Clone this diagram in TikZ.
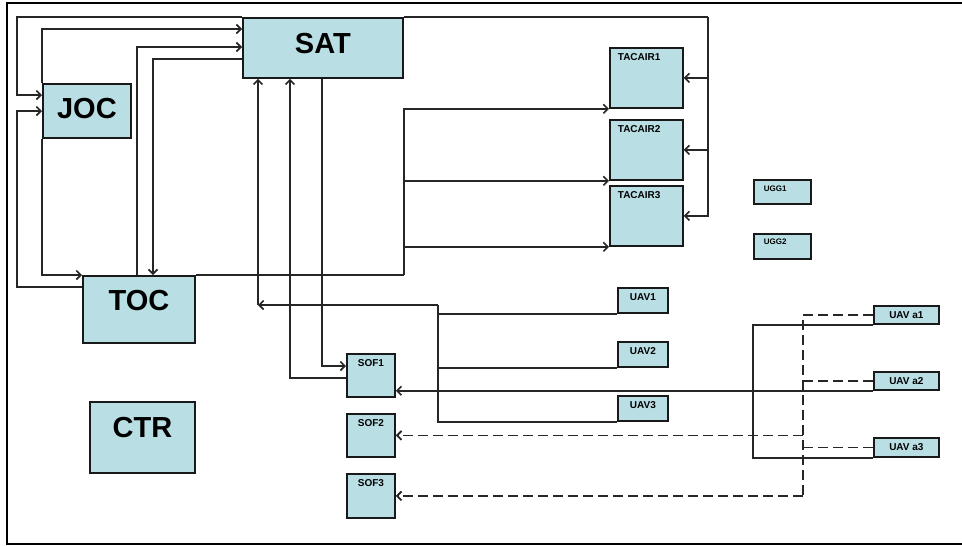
\documentclass[tikz,border=0pt]{standalone}
\usepackage{fontspec}
\setmainfont{Liberation Sans}
\usetikzlibrary{arrows.meta}
\definecolor{unitblue}{RGB}{185,223,228}

\begin{document}
\begin{tikzpicture}[x=1pt,y=-1pt,>={Straight Barb[length=4.5pt,width=9pt]},
  unit/.style={draw=black!90,line width=1.8pt,fill=unitblue,inner sep=0pt,anchor=north west},
  bigunit/.style={unit,font=\fontsize{29}{30}\selectfont\bfseries},
  smallunit/.style={unit,font=\fontsize{10}{11}\selectfont\bfseries},
  link/.style={draw=black!85,line width=1.6pt},
  dlink/.style={link,line width=1.8pt,dash pattern=on 10pt off 5pt}]
\useasboundingbox (0,0) rectangle (962,546);
\draw[line width=2.2pt] (962,3) -- (7,3) -- (7,544) -- (962,544);

% command centres
\node[bigunit,minimum width=160pt,text height=36pt,text depth=24pt] (sat) at (242,17) {SAT};
\node[bigunit,minimum width=88pt,text height=35pt,text depth=19pt] (joc) at (42,83) {JOC};
\node[bigunit,minimum width=112pt,text height=35pt,text depth=32pt] (toc) at (82,275) {TOC};
\node[bigunit,minimum width=105pt,text height=36pt,text depth=35pt] (ctr) at (89,401) {CTR};

% air and ground units
\node[smallunit,minimum width=73pt,text width=57pt,inner xsep=8pt,align=left,text height=13pt,text depth=47pt] (tacair1) at (609,47) {TACAIR1};
\node[smallunit,minimum width=73pt,text width=57pt,inner xsep=8pt,align=left,text height=13pt,text depth=47pt] (tacair2) at (609,119) {TACAIR2};
\node[smallunit,minimum width=73pt,text width=57pt,inner xsep=8pt,align=left,text height=13pt,text depth=47pt] (tacair3) at (609,185) {TACAIR3};
\node[smallunit,font=\fontsize{8}{9}\selectfont\bfseries,minimum width=57pt,text width=37pt,inner xsep=10pt,align=left,text height=12pt,text depth=12pt] (ugg1) at (753,179) {UGG1};
\node[smallunit,font=\fontsize{8}{9}\selectfont\bfseries,minimum width=57pt,text width=37pt,inner xsep=10pt,align=left,text height=11pt,text depth=14pt] (ugg2) at (753,233) {UGG2};
\node[smallunit,minimum width=50pt,text height=13pt,text depth=12pt] (uav1) at (617,287) {UAV1};
\node[smallunit,minimum width=50pt,text height=13pt,text depth=12pt] (uav2) at (617,341) {UAV2};
\node[smallunit,minimum width=50pt,text height=13pt,text depth=12pt] (uav3) at (617,395) {UAV3};
\node[smallunit,minimum width=65pt,text height=13pt,text depth=5pt] (uav_a1) at (873,305) {UAV a1};
\node[smallunit,minimum width=65pt,text height=13pt,text depth=5pt] (uav_a2) at (873,371) {UAV a2};
\node[smallunit,minimum width=65pt,text height=13pt,text depth=6pt] (uav_a3) at (873,437) {UAV a3};
\node[smallunit,minimum width=48pt,text height=13pt,text depth=30pt] (sof1) at (346,353) {SOF1};
\node[smallunit,minimum width=48pt,text height=13pt,text depth=30pt] (sof2) at (346,413) {SOF2};
\node[smallunit,minimum width=48pt,text height=13pt,text depth=31pt] (sof3) at (346,473) {SOF3};

% SAT links
\coordinate (rbus) at ([xshift=304pt]sat.north east);
\draw[link,->] (sat.north west) -- ++(-225,0) |- ([yshift=-12pt]joc.north west);
\draw[link] (sat.north east) -- (rbus);
\foreach \t in {tacair1,tacair2,tacair3} \draw[link,->] (rbus) |- (\t.east);
\draw[link,->] ([yshift=-42pt]sat.north west) -| ([xshift=71pt]toc.north west);
\draw[link,->] ([xshift=80pt]sat.south west) |- ([yshift=-13pt]sof1.north west);

% JOC and TOC links
\draw[link,->] (joc.north west) |- ([yshift=-12pt]sat.north west);
\draw[link,->] (joc.south west) |- (toc.north west);
\draw[link,->] ([yshift=-12pt]toc.north west) -- ++(-65,0) |- ([yshift=-28pt]joc.north west);
\draw[link,->] ([xshift=55pt]toc.north west) |- ([yshift=-30pt]sat.north west);
\coordinate (tbus) at (toc.north east -| sat.east);
\draw[link] (toc.north east) -- (tbus);
\foreach \t in {tacair1,tacair2,tacair3} \draw[link,->] (tbus) |- (\t.south west);

% UAV links
\coordinate (ucorner) at (438,305);
\coordinate (satin) at ([xshift=16pt]sat.south west |- ucorner);
\foreach \u in {uav1,uav2,uav3} \draw[link] (\u.south west) -| (ucorner);
\draw[link,->] (ucorner) -- (satin);
\draw[link,->] (satin) -- ([xshift=16pt]sat.south west);
\draw[link,->] ([yshift=-25pt]sof1.north west) -| ([xshift=48pt]sat.south west);
\draw[link] (uav_a1.south west) -- ++(-120,0) |- (uav_a3.south west);
\draw[link,->] (uav_a2.south west) -- (sof1.east |- uav_a2.south west);

% dashed links
\coordinate (dtop) at ([xshift=-70pt]uav_a1.west);
\coordinate (dbot) at (dtop |- sof3.east);
\draw[dlink] (uav_a1.west) -- (dtop) -- (dbot);
\draw[dlink] (uav_a2.west) -- (dtop |- uav_a2.west);
\draw[dlink] (uav_a3.west) -- (dtop |- uav_a3.west);
\draw[dlink,->] (dtop |- sof2.east) -- (sof2.east);
\draw[dlink,->] (dbot) -- (sof3.east);
\end{tikzpicture}
\end{document}
